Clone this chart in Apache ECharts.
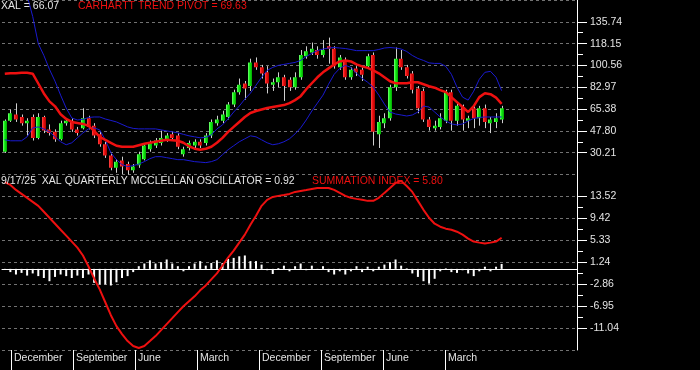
<!DOCTYPE html>
<html>
<head>
<meta charset="utf-8">
<script src="https://cdn.jsdelivr.net/npm/echarts@6/dist/echarts.min.js"></script>
<style>
html,body{margin:0;padding:0;background:#000;}
#chart{width:700px;height:370px;}
</style>
</head>
<body>
<div id="chart"></div>
<script>
// ---------- DATA ----------
const opens = [31,56,61,59,54,59,42,59,49,47,41,54,56,49,50,58,52,45,37,28,18,24,21,16,20,25,33,36,38,41,45,44,29,34,36,39,38,44,54,56,59,69,79,86,84,103,99,95,85,87,91,89,83,91,108,111,113,109,116,114,99,105,91,98,97,100,109,45,54,58,83,106,99,94,82,80,57,50,51,56,79,56,67,56,66,58,66,54,55,57];
const closes = [56,62,57,54,56,42,59,48,46,41,54,56,49,46,58,51,44,37,28,18,23,19,16,19,29,36,38,40,42,44,42,35,33,38,39,36,44,55,57,61,69,79,85,82,103,99,94,86,87,91,84,83,91,109,112,114,109,113,114,100,107,91,97,95,93,108,47,55,58,83,106,99,92,81,66,57,51,52,58,79,56,68,57,58,58,66,55,57,58,66.07];
const highs = [57,65,70,61,58,61,62,60,53,49,56,58,58,51,66,60,54,47,39,30,25,27,23,21,31,38,40,42,48,46,47,46,35,40,41,41,46,57,60,64,71,81,90,88,106,107,101,100,90,95,93,91,95,113,116,119,116,121,123,116,109,107,99,100,99,110,111,60,62,85,115,113,101,96,84,82,59,56,62,81,81,70,69,60,69,68,69,59,62,68];
const lows = [30,55,55,52,44,40,41,46,44,39,40,52,47,44,49,49,42,35,26,16,14,13,12,14,18,24,31,34,36,39,40,33,27,32,34,34,36,42,52,54,57,67,77,73,80,97,90,78,80,83,72,80,81,89,106,109,106,107,102,98,97,89,89,92,88,98,36,34,50,56,80,97,90,78,62,55,48,48,49,54,48,52,48,50,50,52,50,46,50,54];
const trendPivot = [93.9,94.3,94.3,94.7,94.7,93.9,86.0,78.0,71.6,67.6,61.2,57.4,55.0,54.2,53.4,51.8,47.8,43.0,40.6,38.2,35.8,35.0,35.0,35.0,36.2,37.4,38.2,39.0,39.8,40.6,40.2,39.8,38.2,35.4,33.4,32.6,33.4,35.0,38.2,42.2,47.0,51.0,55.0,59.0,62.2,63.8,65.0,66.2,67.0,67.8,68.6,70.2,72.6,75.8,81.4,86.2,91.0,95.0,98.2,101.4,103.8,104.6,103.8,101.4,99.8,98.6,96.6,94.2,91.0,87.8,86.2,86.2,86.2,87.0,87.0,85.4,83.8,82.6,80.6,79.0,75.0,71.0,67.0,63.0,67.8,75.0,78.2,77.4,74.6,69.63];
const upperBand = [255,230,205,180,157,140.0,118.1,108.6,97.4,87.8,76.6,66.2,58.2,56.6,57.0,58.6,59.0,59.0,57.4,56.2,55.0,53.0,51.0,49.8,49.4,49.4,49.4,49.4,48.6,47.8,47.0,46.2,45.0,43.8,43.0,42.2,42.6,44.6,49.4,52.6,57.4,63.0,67.8,73.4,78.2,84.6,91.0,96.6,99.0,100.6,101.4,102.2,103.0,104.6,107.8,110.2,112.5,113.8,114.6,115.0,114.6,114.2,113.4,112.5,112.5,112.5,112.5,113.4,114.6,115.0,114.6,113.8,111.8,108.6,106.2,104.6,102.6,102.2,102.2,99.8,93.4,83.0,75.0,72.6,79.8,89.4,95.0,95.8,91.0,80.2];
const lowerBand = [40.6,39.8,39.8,39.8,43.0,50.2,51.0,49.4,47.0,43.0,39.0,36.6,38.2,42.2,46.2,49.4,50.2,48.6,40.6,30.2,24.6,20.6,19.0,19.8,21.0,23.0,25.4,27.0,27.0,26.2,25.4,24.6,24.6,23.8,23.0,22.6,22.2,23.0,24.6,28.6,32.6,35.8,39.0,41.4,43.8,43.0,40.6,38.2,36.6,37.4,39.0,41.4,45.4,50.2,56.6,63.8,70.2,76.6,85.4,93.4,98.2,100.6,99.0,94.2,90.2,87.0,83.0,76.6,69.4,63.0,61.4,60.6,59.8,60.6,63.0,67.8,67.0,63.0,59.0,55.8,53.4,52.6,53.4,55.8,57.8,58.6,59.0,59.0,59.0,59.0];
const summationIndex = [16.2,15.66,14.73,13.99,13.25,12.51,11.76,10.65,9.54,8.43,7.31,6.2,5.09,3.97,2.49,0.45,-1.78,-3.82,-6.23,-8.64,-10.68,-12.17,-13.47,-14.39,-14.77,-14.39,-13.47,-12.54,-11.43,-10.31,-9.2,-8.08,-6.97,-6.04,-5.12,-4.0,-3.08,-1.96,-0.85,0.63,2.12,3.42,4.9,6.39,8.24,9.91,11.76,12.88,13.43,13.62,13.8,13.99,14.36,14.55,14.73,14.92,15.1,15.1,15.1,14.73,14.18,13.62,13.25,13.06,12.88,12.69,12.69,13.25,14.18,15.1,16.03,16.4,15.47,14.36,12.69,11.02,9.54,8.43,7.87,7.5,7.31,6.94,6.39,5.65,5.09,4.9,4.72,4.9,5.09,5.80];
const oscillator = [-0.2,-0.6,-1.05,-0.75,-1.25,-0.85,-1.35,-1.7,-2.3,-1.5,-1.05,-1.35,-1.7,-1.25,-1.7,-1.05,-2.6,-2.9,-2.9,-3.1,-2.5,-1.7,-1.35,-0.6,0.5,1.0,1.6,1.0,1.25,1.75,1.0,0.5,-0.45,0.5,1.0,1.45,0.6,1.1,1.6,1.1,1.85,2.05,2.35,2.5,1.45,1.45,0.8,-0.25,-0.95,0.15,0.6,-0.45,0.5,1.0,-0.25,0.6,-0.2,0.5,-0.6,-1.05,-0.45,-1.05,-0.45,0.5,-0.6,0.4,-0.45,0.4,0.8,1.25,1.75,0.6,0.1,-0.85,-1.5,-2.3,-2.75,-1.85,-0.45,0.1,-0.6,-0.75,-0.25,-0.85,-1.35,-0.45,0.4,-0.45,0.4,0.92];
const quarterLabels = ['December','September','June','March','December','September','June','March'];
const quarterStarts = [1.11, 12.22, 23.32, 34.43, 45.54, 56.64, 67.75, 78.86];
const priceAxis = {min: 12.62, step: 17.588, count: 8};
const oscAxis = {min: -15.135, step: 4.093, count: 8};
const headerTexts = {
  price: 'XAL = 66.07',
  pivot: 'CARHARTT TREND PIVOT = 69.63',
  osc: '9/17/25  XAL QUARTERLY MCCLELLAN OSCILLATOR = 0.92',
  sum: 'SUMMATION INDEX = 5.80'
};

// ---------- LAYOUT ----------
const W = 700, PLOT_LEFT = 2, PLOT_RIGHT = 123;
const SLOTS = 103;
const band = (W - PLOT_LEFT - PLOT_RIGHT) / SLOTS;
const cats = Array.from({length: SLOTS}, (_, i) => i);
const FONT = "'Liberation Sans', Arial, sans-serif";
const TXT = '#e4e4e4';
const RED = '#ee1010';
const BLUE = '#1a1ad0';
const SPLIT_Y = 174.5;

const candleRows = opens.map((o, i) => [i, o, closes[i], lows[i], highs[i]]);

function panelYAxes(gridIndex, ax) {
  const max = ax.min + ax.step * ax.count;
  const majors = [], minors = [];
  for (let k = 1; k < ax.count; k++) majors.push(ax.min + ax.step * k);
  for (let k = 1; k < ax.count - 1; k++) minors.push(ax.min + ax.step * (k + 0.5));
  const base = {type: 'value', gridIndex, min: ax.min, max, position: 'right'};
  return [
    Object.assign({}, base, {
      interval: ax.step,
      axisLine: {show: true, lineStyle: {color: '#ffffff', width: 1}},
      axisTick: {show: false},
      axisLabel: {show: true, showMinLabel: false, showMaxLabel: false, color: TXT,
        fontSize: 10.5, fontFamily: FONT, margin: 13, formatter: v => v.toFixed(2)},
      splitLine: {show: true, lineStyle: {color: '#727272', type: [3, 3], width: 1}}
    }),
    Object.assign({}, base, {
      axisLine: {show: false}, axisLabel: {show: false}, splitLine: {show: false},
      axisTick: {show: true, length: 10, customValues: majors, lineStyle: {color: '#ffffff'}}
    }),
    Object.assign({}, base, {
      axisLine: {show: false}, axisLabel: {show: false}, splitLine: {show: false},
      axisTick: {show: true, length: 6, customValues: minors, lineStyle: {color: '#ffffff'}}
    })
  ];
}

const upFill = {type: 'linear', x: 0, y: 0, x2: 1, y2: 0,
  colorStops: [{offset: 0, color: '#7dff7d'}, {offset: 0.4, color: '#14f014'}, {offset: 1, color: '#00a800'}]};
const downFill = {type: 'linear', x: 0, y: 0, x2: 1, y2: 0,
  colorStops: [{offset: 0, color: '#ff4a4a'}, {offset: 0.4, color: '#f01010'}, {offset: 1, color: '#a80000'}]};

function renderCandle(params, api) {
  const i = api.value(0);
  const o = api.value(1), c = api.value(2), l = api.value(3), h = api.value(4);
  const pO = api.coord([i, o]), pC = api.coord([i, c]);
  const pL = api.coord([i, l]), pH = api.coord([i, h]);
  const bw = Math.max(2, Math.round(api.size([1, 0])[0] * 0.75));
  const cx = Math.round(pO[0]);
  const top = Math.min(pO[1], pC[1]), bot = Math.max(pO[1], pC[1]);
  return {
    type: 'group',
    children: [
      {type: 'line', shape: {x1: cx + 0.5, y1: pH[1], x2: cx + 0.5, y2: pL[1]},
        style: {stroke: '#cfcfcf', lineWidth: 1}},
      {type: 'rect', shape: {x: cx - Math.floor(bw / 2), y: top, width: bw, height: Math.max(1, bot - top)},
        style: {fill: c >= o ? upFill : downFill}}
    ]
  };
}

const qFirst = quarterStarts[0], qLast = quarterStarts[quarterStarts.length - 1];

const option = {
  backgroundColor: '#000000',
  animation: false,
  title: [
    {text: headerTexts.price, left: 1, top: 1, padding: 0, textStyle: {color: TXT, fontSize: 10.5, fontWeight: 'normal', fontFamily: FONT}},
    {text: headerTexts.pivot, left: 78, top: 1, padding: 0, textStyle: {color: RED, fontSize: 10.5, fontWeight: 'normal', fontFamily: FONT}},
    {text: headerTexts.osc, left: 1, top: 176, padding: 0, textStyle: {color: TXT, fontSize: 10.5, fontWeight: 'normal', fontFamily: FONT}},
    {text: headerTexts.sum, left: 312, top: 176, padding: 0, textStyle: {color: RED, fontSize: 10.5, fontWeight: 'normal', fontFamily: FONT}}
  ],
  grid: [
    {left: PLOT_LEFT, right: PLOT_RIGHT, top: -1, height: SPLIT_Y + 1},
    {left: PLOT_LEFT, right: PLOT_RIGHT, top: SPLIT_Y, height: 350 - SPLIT_Y},
    {left: PLOT_LEFT + band * (qFirst + 0.5), width: band * (qLast - qFirst), top: 350, height: 20},
    {left: 0, right: 0, top: 350, height: 20}
  ],
  xAxis: [
    {type: 'category', gridIndex: 0, data: cats, show: false},
    {type: 'category', gridIndex: 1, data: cats,
      axisLine: {show: true, onZero: true, lineStyle: {color: '#ffffff', width: 1}},
      axisTick: {show: false}, axisLabel: {show: false}, splitLine: {show: false}},
    {type: 'category', gridIndex: 2, data: quarterLabels, boundaryGap: false, position: 'top',
      axisLine: {show: false},
      axisTick: {show: false},
      axisLabel: {show: true, inside: true, interval: 0, align: 'left', margin: 3, hideOverlap: false,
        padding: [0, 0, 0, 3], color: TXT, fontSize: 10.5, fontFamily: FONT},
      splitLine: {show: true, interval: 0, lineStyle: {color: '#ffffff', width: 1, type: 'solid'}}},
    {type: 'value', gridIndex: 3, min: 0, max: 1, position: 'top',
      axisLine: {show: true, lineStyle: {color: '#ffffff', width: 1}},
      axisTick: {show: false}, axisLabel: {show: false}, splitLine: {show: false}}
  ],
  yAxis: [].concat(panelYAxes(0, priceAxis), panelYAxes(1, oscAxis), [
    {type: 'value', gridIndex: 2, show: false},
    {type: 'value', gridIndex: 3, show: false}
  ]),
  series: [
    {type: 'custom', name: 'XAL', xAxisIndex: 0, yAxisIndex: 0, renderItem: renderCandle,
      encode: {x: 0, y: [1, 2, 3, 4]}, data: candleRows, clip: true, z: 2},
    {type: 'line', name: 'Upper', xAxisIndex: 0, yAxisIndex: 0, data: upperBand, symbol: 'none',
      lineStyle: {color: BLUE, width: 1}, z: 3},
    {type: 'line', name: 'Lower', xAxisIndex: 0, yAxisIndex: 0, data: lowerBand, symbol: 'none',
      lineStyle: {color: BLUE, width: 1}, z: 3},
    {type: 'line', name: 'Pivot', xAxisIndex: 0, yAxisIndex: 0, data: trendPivot, symbol: 'none',
      lineStyle: {color: RED, width: 2.5}, z: 4},
    {type: 'bar', name: 'Oscillator', xAxisIndex: 1, yAxisIndex: 3, data: oscillator, barWidth: 2,
      itemStyle: {color: '#ffffff'}, z: 2},
    {type: 'line', name: 'Summation', xAxisIndex: 1, yAxisIndex: 3, data: summationIndex, symbol: 'none',
      lineStyle: {color: RED, width: 2}, z: 4}
  ]
};

const chart = echarts.init(document.getElementById('chart'), null, {renderer: 'canvas'});
chart.setOption(option);
</script>
</body>
</html>
